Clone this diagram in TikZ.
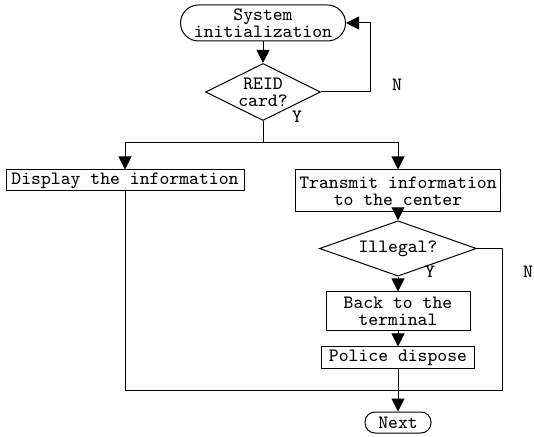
\documentclass[tikz,border=0pt]{standalone}
\usetikzlibrary{arrows.meta,shapes.geometric}
\tikzset{
  box/.style={draw, line width=0.5pt, rectangle, inner sep=1pt, align=center},
  term/.style={draw, line width=0.5pt, rectangle, rounded corners=9pt, inner sep=1pt, align=center},
  decide/.style={draw, line width=0.5pt, diamond, aspect=2, inner sep=0pt, align=center},
  flow/.style={line width=0.5pt, -{Triangle[length=6.5pt,width=6.5pt]}},
  wire/.style={line width=0.5pt},
  lbl/.style={inner sep=0pt}
}
\begin{document}
\begin{tikzpicture}[x=0.5pt, y=-0.5pt, font=\fontsize{9.4}{8.5}\selectfont\ttfamily]
    \useasboundingbox (0,0) rectangle (534,437);

    % Nodes of the chart
    \node[term, minimum width=82.5pt, minimum height=18pt] (init) at (263,23) {System\\initialization};
    \node[decide, minimum width=57.5pt, minimum height=28.5pt] (card) at (263,92) {REID\\card?};
    \node[box, minimum width=119pt, minimum height=10.5pt] (disp) at (125,180.5) {Display the information};
    \node[box, minimum width=102.5pt, minimum height=21pt] (trans) at (398,191) {Transmit information\\to the center};
    \node[decide, minimum width=78.5pt, minimum height=19.5pt] (illegal) at (398,248.5) {Illegal?};
    \node[box, minimum width=72pt, minimum height=19.5pt] (back) at (398,311.5) {Back to the\\terminal};
    \node[box, minimum width=76.5pt, minimum height=10.5pt] (police) at (398,357.5) {Police dispose};
    \node[term, minimum width=33pt, minimum height=10.5pt, rounded corners=5pt] (next) at (398,422.5) {Next};

    % Helper points for the wires
    \coordinate (split) at (263,143);
    \coordinate (loopA) at (370,92);
    \coordinate (loopB) at (502,248.5);
    \coordinate (join) at (502,390);
    \coordinate (dispEnd) at (125,390);

    % Draw connectors
    \draw[flow] (init) -- (card);
    \draw[flow] (card.east) -- (loopA) |- (init.east);
    \draw[wire] (card.south) -- (split);
    \draw[flow] (split) -| (disp.north);
    \draw[flow] (split) -| (trans.north);
    \draw[flow] (trans) -- (illegal);
    \draw[flow] (illegal) -- (back);
    \draw[flow] (back) -- (police);
    \draw[wire] (illegal.east) -- (loopB) -- (join) -- (dispEnd) -- (disp.south);
    \draw[flow] (police) -- (next);

    % Branch labels
    \node[lbl] (n1) at (397,85) {N};
    \node[lbl] (y1) at (297,117) {Y};
    \node[lbl] (y2) at (430,272) {Y};
    \node[lbl] (n2) at (528,272) {N};
\end{tikzpicture}
\end{document}
